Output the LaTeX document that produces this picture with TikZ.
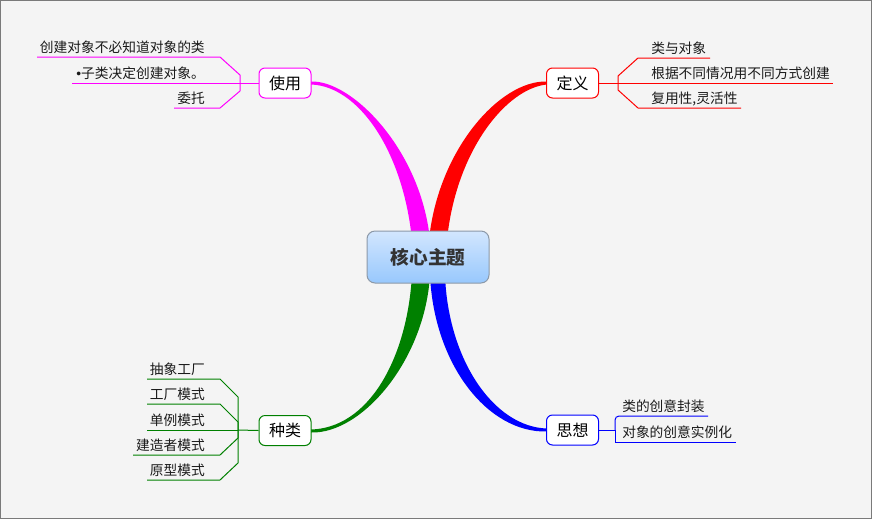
\documentclass[tikz,border=0pt]{standalone}
\usepackage{fontspec}
\newfontfamily\cjk{Noto Sans CJK SC}
\newfontfamily\latf{Liberation Sans}
\definecolor{bgc}{HTML}{F4F4F4}
\definecolor{bgborder}{HTML}{7A7A7A}
\definecolor{ctop}{HTML}{D2E6FE}
\definecolor{cbot}{HTML}{98C8FD}
\definecolor{cbord}{HTML}{8C99A8}
\definecolor{ctext}{HTML}{333333}
\definecolor{leaftext}{HTML}{1A1A1A}
\definecolor{mag}{HTML}{FF00FF}
\definecolor{rd}{HTML}{FF0000}
\definecolor{gr}{HTML}{008000}
\definecolor{bl}{HTML}{0000FF}
\begin{document}
\begin{tikzpicture}[x=0.75pt,y=-0.75pt,
  central/.style={draw=cbord, rounded corners=6pt, top color=ctop, bottom color=cbot,
    minimum width=91.5pt, minimum height=39pt, inner sep=0pt,
    font=\cjk\bfseries\fontsize{14}{16}\selectfont, text=ctext, line width=0.75pt},
  sub/.style={draw=#1, fill=white, rounded corners=4.5pt, minimum width=39pt,
    minimum height=22.5pt, line width=0.75pt, inner sep=0pt,
    font=\cjk\fontsize{12}{14}\selectfont, text=black},
  leafR/.style={anchor=base east, inner sep=0pt, font=\cjk\fontsize{10.3}{12}\selectfont, text=leaftext},
  leafL/.style={anchor=base west, inner sep=0pt, font=\cjk\fontsize{10.3}{12}\selectfont, text=leaftext},
  wire/.style={draw=#1, line width=0.75pt}
]
\useasboundingbox (0,0) rectangle (872,519);
\draw[fill=bgc, draw=bgborder, line width=0.9pt] (0.6,0.6) rectangle (871.4,518.4);

% ribbons
\fill[mag] (412,240) .. controls (403,150) and (358,86) .. (311,84.5)
  -- (311,81.5) .. controls (352,80) and (421,150) .. (430,240) -- cycle;
\fill[rd] (429,240) .. controls (438,150) and (500,80) .. (547,81.5)
  -- (547,84.5) .. controls (507,88) and (456,150) .. (447,240) -- cycle;
\fill[gr] (412,275) .. controls (407,360) and (368,428) .. (311,429.5)
  -- (311,432.5) .. controls (362,434) and (425,360) .. (430,275) -- cycle;
\fill[bl] (430,275) .. controls (434,365) and (488,433) .. (547,431.5)
  -- (547,428.5) .. controls (494,427) and (448,360) .. (445,275) -- cycle;

% central topic
\node[central] (c) at (428,257) {核心主题};

% subtopics
\node[sub=mag] (u) at (285,83) {使用};
\node[sub=rd] (d) at (572.5,83) {定义};
\node[sub=gr] (k) at (285,430.5) {种类};
\node[sub=bl] (s) at (572.5,430) {思想};

% ---- 使用 ----
\coordinate (ju) at (240,83);
\coordinate (u1) at (37,57);
\coordinate (u2) at (72,83);
\coordinate (u3) at (174,108);
\draw[wire=mag] (u.west) -- (ju);
\draw[wire=mag] (ju) -- (240,75) -- (220,57) -- (u1);
\draw[wire=mag] (ju) -- (u2);
\draw[wire=mag] (ju) -- (240,91) -- (220,108) -- (u3);
\node[leafR] (tu1) at (205,52) {创建对象不必知道对象的类};
\node[leafR] (tu2) at (205,78) {{\latf •}子类决定创建对象。};
\node[leafR] (tu3) at (205,103) {委托};

% ---- 定义 ----
\coordinate (jd) at (618,83);
\coordinate (d1) at (710,58);
\coordinate (d2) at (833,83);
\coordinate (d3) at (741,108);
\draw[wire=rd] (d.east) -- (jd);
\draw[wire=rd] (jd) -- (618,76) -- (638,58) -- (d1);
\draw[wire=rd] (jd) -- (d2);
\draw[wire=rd] (jd) -- (618,90) -- (638,108) -- (d3);
\node[leafL] (td1) at (651,53) {类与对象};
\node[leafL] (td2) at (651,78) {根据不同情况用不同方式创建};
\node[leafL] (td3) at (651,103) {复用性,灵活性};

% ---- 种类 ----
\coordinate (jk) at (238,430);
\coordinate (k1) at (147,379);
\coordinate (k2) at (147,404);
\coordinate (k3) at (147,430);
\coordinate (k4) at (133,455);
\coordinate (k5) at (147,480);
\draw[wire=gr] (k.west) -- (jk);
\draw[wire=gr] (jk) -- (238,397) -- (220,379) -- (k1);
\draw[wire=gr] (jk) -- (238,422) -- (220,404) -- (k2);
\draw[wire=gr] (jk) -- (k3);
\draw[wire=gr] (jk) -- (238,438) -- (220,455) -- (k4);
\draw[wire=gr] (jk) -- (238,463) -- (220,480) -- (k5);
\node[leafR] (tk1) at (205,374) {抽象工厂};
\node[leafR] (tk2) at (205,399) {工厂模式};
\node[leafR] (tk3) at (205,425) {单例模式};
\node[leafR] (tk4) at (205,450) {建造者模式};
\node[leafR] (tk5) at (205,475) {原型模式};

% ---- 思想 ----
\coordinate (js) at (615,430);
\coordinate (s1) at (708,416);
\coordinate (s2) at (736,442);
\draw[wire=bl] (s.east) -- (js);
\draw[wire=bl, rounded corners=3pt] (js) -- (615,416) -- (s1);
\draw[wire=bl] (js) -- (615,442) -- (s2);
\node[leafL] (ts1) at (622,411) {类的创意封装};
\node[leafL] (ts2) at (622,437) {对象的创意实例化};
\end{tikzpicture}
\end{document}
